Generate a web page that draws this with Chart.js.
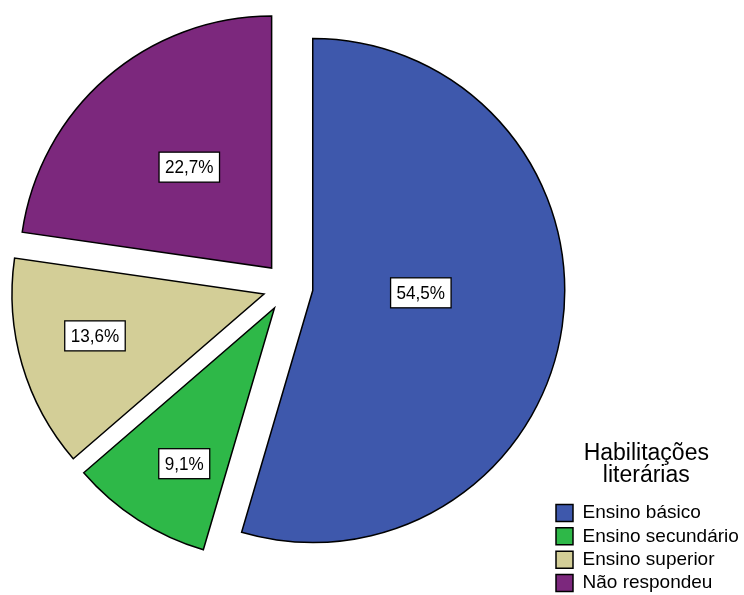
<!DOCTYPE html>
<html>
<head>
<meta charset="utf-8">
<script src="https://cdn.jsdelivr.net/npm/chart.js@4.4.1/dist/chart.umd.min.js"></script>
<style>
  html, body { margin: 0; padding: 0; background: #fff; overflow: hidden; }
  #wrap { position: absolute; left: 0; top: -23px; width: 744px; height: 620px; }
</style>
</head>
<body>
<div id="wrap"><canvas id="myChart"></canvas></div>
<script>
// data
const categories = ['Ensino básico', 'Ensino secundário', 'Ensino superior', 'Não respondeu'];
const percents = [54.5, 9.1, 13.6, 22.7];
const legendTitle = ['Habilitações', 'literárias'];

const sliceColors = ['#3E58AC', '#2EB848', '#D3CE97', '#7C287D'];
const FONT = "'Liberation Sans', Arial, sans-serif";
const explodeGap = 25;
// label placement: fraction of radius from slice tip, and small angle shift (deg)
const labelDist = [0.429, 0.714, 0.691, 0.517];
const labelShift = [-7, -2.7, 2.4, 1.7];

// pushes every slice out along its bisector (exploded pie)
const explodePlugin = {
  id: 'explode',
  beforeDatasetsDraw(chart) {
    const ca = chart.chartArea;
    const meta = chart.getDatasetMeta(0);
    const cx = (ca.left + ca.right) / 2 + (meta.controller.offsetX || 0);
    const cy = (ca.top + ca.bottom) / 2 + (meta.controller.offsetY || 0);
    meta.data.forEach(arc => {
      const mid = (arc.startAngle + arc.endAngle) / 2;
      arc.x = cx + Math.cos(mid) * explodeGap;
      arc.y = cy + Math.sin(mid) * explodeGap;
    });
  }
};

// boxed percentage labels
const labelPlugin = {
  id: 'sliceLabels',
  afterDatasetsDraw(chart) {
    const ctx = chart.ctx;
    const meta = chart.getDatasetMeta(0);
    meta.data.forEach((arc, i) => {
      const a = (arc.startAngle + arc.endAngle) / 2 + labelShift[i] * Math.PI / 180;
      const r = arc.outerRadius * labelDist[i];
      const px = arc.x + Math.cos(a) * r;
      const py = arc.y + Math.sin(a) * r;
      const text = percents[i].toFixed(1).replace('.', ',') + '%';
      const sx = 0.9;
      ctx.save();
      ctx.font = '19px ' + FONT;
      const w = ctx.measureText(text).width * sx + 12;
      const h = 30;
      ctx.fillStyle = '#fff';
      ctx.strokeStyle = '#000';
      ctx.lineWidth = 1.3;
      ctx.fillRect(px - w / 2, py - h / 2, w, h);
      ctx.strokeRect(px - w / 2, py - h / 2, w, h);
      ctx.translate(px, py + 1);
      ctx.scale(sx, 1);
      ctx.fillStyle = '#000';
      ctx.textAlign = 'center';
      ctx.textBaseline = 'middle';
      ctx.fillText(text, 0, 0);
      ctx.restore();
    });
  }
};

const ctx = document.getElementById('myChart').getContext('2d');
const myPieChart = new Chart(ctx, {
  type: 'pie',
  data: {
    labels: categories,
    datasets: [{
      data: percents,
      backgroundColor: sliceColors,
      borderColor: '#000',
      borderWidth: 1.5,
      borderJoinStyle: 'miter',
      hoverOffset: 0
    }]
  },
  options: {
    responsive: true,
    maintainAspectRatio: false,
    devicePixelRatio: 1,
    animation: false,
    events: [],
    radius: 252,
    layout: { padding: { left: 24.4, right: 3, top: 0, bottom: 0 } },
    plugins: {
      tooltip: { enabled: false },
      legend: {
        position: 'right',
        align: 'end',
        maxWidth: 189.4,
        title: {
          display: true,
          text: legendTitle,
          color: '#000',
          font: { family: FONT, size: 23, lineHeight: 0.93 },
          padding: { top: 0, bottom: 35.1 }
        },
        labels: {
          boxWidth: 17,
          boxHeight: 17,
          padding: 4.4,
          color: '#000',
          font: { family: FONT, size: 19 }
        }
      }
    }
  },
  plugins: [explodePlugin, labelPlugin]
});
</script>
</body>
</html>
